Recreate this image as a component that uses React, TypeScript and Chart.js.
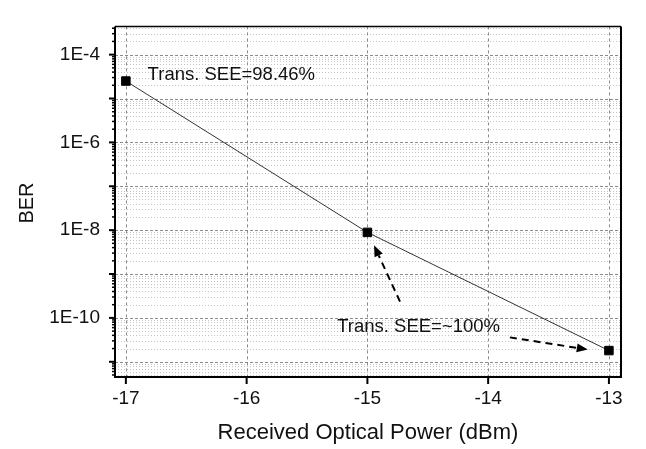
import React, { useEffect, useRef } from 'react';
import { Chart, registerables } from 'chart.js';

Chart.register(...registerables);

// ---- data ----
const powerDbm = [-17, -15, -13];
const berValues = [2.5e-5, 8.9e-9, 1.8e-11];

const xTickValues = [-17, -16, -15, -14, -13];
const yLabelDecades = [1e-4, 1e-6, 1e-8, 1e-10];
const xRange = [-17.09, -12.9];
const yRange = [4.5e-12, 4.4e-4];

const xTitle = 'Received Optical Power (dBm)';
const yTitle = 'BER';

// annotations, in data coordinates
const noteTexts = ['Trans. SEE=98.46%', 'Trans. SEE=~100%'];
const noteX = [-16.82, -15.25];
const noteY = [3.4e-5, 6.2e-11];
const arrowTailX = [-14.73, -13.82];
const arrowTailY = [2.35e-10, 3.6e-11];
const arrowHeadX = [-14.945, -13.175];
const arrowHeadY = [4.5e-9, 1.9e-11];

const FONT = '"Liberation Sans", Arial, sans-serif';

const isDecade = (v: number) => {
  const e = Math.round(Math.log10(v));
  return Math.abs(v / Math.pow(10, e) - 1) < 1e-6;
};

const framePlugin = {
  id: 'frame',
  beforeDatasetsDraw(chart: any) {
    const { ctx, chartArea: a, scales } = chart;
    const xs = scales.x;
    const ys = scales.y;
    ctx.save();
    ctx.beginPath();
    ctx.rect(a.left, a.top, a.right - a.left, a.bottom - a.top);
    ctx.clip();
    // horizontal grid
    ys.ticks.forEach((t: any) => {
      const y = Math.round(ys.getPixelForValue(t.value)) + 0.5;
      const major = isDecade(t.value);
      ctx.beginPath();
      ctx.lineWidth = 1;
      ctx.strokeStyle = major ? '#8a8a8a' : '#c4c4c4';
      ctx.setLineDash(major ? [3, 2] : [1, 2]);
      ctx.moveTo(a.left, y);
      ctx.lineTo(a.right, y);
      ctx.stroke();
    });
    // vertical grid
    xs.ticks.forEach((t: any) => {
      const x = Math.round(xs.getPixelForValue(t.value)) + 0.5;
      ctx.beginPath();
      ctx.lineWidth = 1;
      ctx.strokeStyle = '#8a8a8a';
      ctx.setLineDash([3, 3]);
      ctx.moveTo(x, a.top);
      ctx.lineTo(x, a.bottom);
      ctx.stroke();
    });
    ctx.restore();
  },
  afterDatasetsDraw(chart: any) {
    const { ctx, chartArea: a, scales } = chart;
    const xs = scales.x;
    const ys = scales.y;
    ctx.save();
    ctx.setLineDash([]);
    ctx.strokeStyle = '#000';
    // frame
    ctx.lineWidth = 1.5;
    ctx.beginPath();
    ctx.moveTo(a.left, a.top);
    ctx.lineTo(a.right, a.top);
    ctx.stroke();
    ctx.lineWidth = 2;
    ctx.beginPath();
    ctx.moveTo(a.left, a.top);
    ctx.lineTo(a.left, a.bottom);
    ctx.lineTo(a.right, a.bottom);
    ctx.lineTo(a.right, a.top);
    ctx.stroke();
    // y tick marks
    ys.ticks.forEach((t: any) => {
      const y = ys.getPixelForValue(t.value);
      if (y < a.top || y > a.bottom) return;
      const major = isDecade(t.value);
      ctx.lineWidth = major ? 2 : 1.5;
      ctx.beginPath();
      ctx.moveTo(a.left, y);
      ctx.lineTo(a.left - (major ? 6 : 3), y);
      ctx.stroke();
    });
    // x tick marks
    xs.ticks.forEach((t: any) => {
      const x = xs.getPixelForValue(t.value);
      ctx.lineWidth = 2;
      ctx.beginPath();
      ctx.moveTo(x, a.bottom);
      ctx.lineTo(x, a.bottom + 7);
      ctx.stroke();
    });
    // arrows
    for (let i = 0; i < arrowTailX.length; i++) {
      const x0 = xs.getPixelForValue(arrowTailX[i]);
      const y0 = ys.getPixelForValue(arrowTailY[i]);
      const x1 = xs.getPixelForValue(arrowHeadX[i]);
      const y1 = ys.getPixelForValue(arrowHeadY[i]);
      const ang = Math.atan2(y1 - y0, x1 - x0);
      const hl = 11;
      const hw = 4.5;
      const bx = x1 - hl * Math.cos(ang);
      const by = y1 - hl * Math.sin(ang);
      ctx.lineWidth = 2;
      ctx.setLineDash([7, 5]);
      ctx.beginPath();
      ctx.moveTo(x0, y0);
      ctx.lineTo(bx, by);
      ctx.stroke();
      ctx.setLineDash([]);
      ctx.fillStyle = '#000';
      ctx.beginPath();
      ctx.moveTo(x1, y1);
      ctx.lineTo(bx + hw * Math.sin(ang), by - hw * Math.cos(ang));
      ctx.lineTo(bx - hw * Math.sin(ang), by + hw * Math.cos(ang));
      ctx.closePath();
      ctx.fill();
    }
    // notes
    ctx.fillStyle = '#111';
    ctx.font = `18.5px ${FONT}`;
    ctx.textAlign = 'left';
    ctx.textBaseline = 'middle';
    for (let i = 0; i < noteTexts.length; i++) {
      ctx.fillText(noteTexts[i], xs.getPixelForValue(noteX[i]), ys.getPixelForValue(noteY[i]));
    }
    // y title
    ctx.font = `20px ${FONT}`;
    ctx.translate(27, 203);
    ctx.rotate(-Math.PI / 2);
    ctx.textAlign = 'center';
    ctx.fillText(yTitle, 0, 0);
    ctx.restore();
  },
};

export default function App() {
  const ref = useRef<HTMLCanvasElement>(null);
  useEffect(() => {
    if (!ref.current) return;
    const chart = new Chart(ref.current, {
      type: 'line',
      data: {
        datasets: [
          {
            data: powerDbm.map((x, i) => ({ x, y: berValues[i] })),
            borderColor: '#333',
            borderWidth: 1,
            pointStyle: 'rect',
            pointRadius: 6,
            pointBackgroundColor: '#000',
            pointBorderColor: '#000',
            pointBorderWidth: 1,
            tension: 0,
          },
        ],
      },
      options: {
        animation: false,
        responsive: true,
        maintainAspectRatio: false,
        layout: { padding: { top: 5, right: 25, left: 0, bottom: 0 } },
        plugins: { legend: { display: false }, tooltip: { enabled: false } },
        scales: {
          x: {
            type: 'linear',
            min: xRange[0],
            max: xRange[1],
            bounds: 'data',
            afterBuildTicks: (s: any) => {
              s.ticks = xTickValues.map((v) => ({ value: v }));
            },
            afterFit: (s: any) => {
              s.height = 72;
            },
            grid: { display: false, drawTicks: false },
            border: { display: false },
            ticks: {
              autoSkip: false,
              padding: 10,
              color: '#111',
              font: { family: FONT, size: 19 },
              callback: (v: any) => String(v),
            },
            title: {
              display: true,
              text: xTitle,
              color: '#111',
              font: { family: FONT, size: 22 },
              padding: { top: 0, bottom: 3 },
            },
          },
          y: {
            type: 'logarithmic',
            min: yRange[0],
            max: yRange[1],
            bounds: 'data',
            afterBuildTicks: (s: any) => {
              const lo = Math.floor(Math.log10(yRange[0]));
              const hi = Math.ceil(Math.log10(yRange[1]));
              const t: any[] = [];
              for (let e = lo; e <= hi; e++) {
                for (let k = 1; k <= 9; k++) {
                  const v = k * Math.pow(10, e);
                  if (v >= yRange[0] && v <= yRange[1]) t.push({ value: v, major: k === 1 });
                }
              }
              s.ticks = t;
            },
            afterFit: (s: any) => {
              s.width = 115;
            },
            grid: { display: false, drawTicks: false },
            border: { display: false },
            ticks: {
              autoSkip: false,
              padding: 15,
              color: '#111',
              font: { family: FONT, size: 19 },
              callback: (v: any) => {
                const val = Number(v);
                if (!isDecade(val)) return '';
                const e = Math.round(Math.log10(val));
                return yLabelDecades.some((d) => Math.round(Math.log10(d)) === e) ? `1E${e}` : '';
              },
            },
          },
        },
      },
      plugins: [framePlugin],
    } as any);
    return () => chart.destroy();
  }, []);
  return (
    <div style={{ position: 'fixed', left: 0, top: 0, width: 646, height: 449, background: '#fff' }}>
      <canvas ref={ref} />
    </div>
  );
}
